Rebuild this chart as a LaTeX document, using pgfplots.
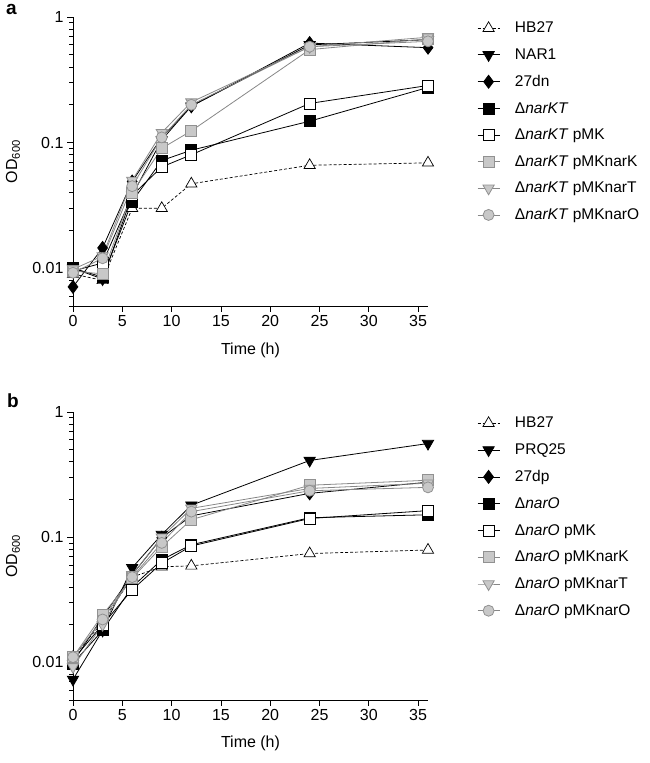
\documentclass[border=0pt]{standalone}
\usepackage{fontspec}
\setmainfont{Liberation Sans}
\usepackage{pgfplots}
\pgfplotsset{compat=1.18}
\definecolor{lgray}{RGB}{200,200,200}
\definecolor{mgray}{RGB}{145,145,145}
\definecolor{lline}{RGB}{135,135,135}
\newcommand{\fs}{\fontsize{16}{19}\selectfont}
\newcommand{\fl}{\fontsize{15.5}{18}\selectfont}
\tikzset{
 shb/.style={black, line width=0.7pt, dash pattern=on 3pt off 2pt, mark=triangle*, mark size=6.5pt, mark options={solid, fill=white, draw=black}},
 snar/.style={black, line width=0.8pt, mark=triangle*, mark size=6.5pt, mark options={rotate=180, fill=black}},
 sdn/.style={black, line width=0.8pt, mark=diamond*, mark size=6.5pt, mark options={fill=black}},
 ssq/.style={black, line width=0.8pt, mark=square*, mark size=5.5pt, mark options={fill=black}},
 spmk/.style={black, line width=0.8pt, mark=square*, mark size=5.5pt, mark options={fill=white, draw=black}},
 snk/.style={lline, line width=0.8pt, mark=square*, mark size=5.5pt, mark options={fill=lgray, draw=mgray}},
 snt/.style={lline, line width=0.8pt, mark=triangle*, mark size=6.5pt, mark options={rotate=180, fill=lgray, draw=mgray}},
 sno/.style={lline, line width=0.8pt, mark=*, mark size=5.5pt, mark options={fill=lgray, draw=mgray}},
}
\begin{document}
\begin{tikzpicture}
\useasboundingbox (0pt,0pt) rectangle (649pt,-763pt);
\node[font=\fontsize{19}{22}\selectfont\bfseries, inner sep=0pt, anchor=base west] at (6pt,-14pt) {a};
\node[font=\fontsize{19}{22}\selectfont\bfseries, inner sep=0pt, anchor=base west] at (7pt,-407pt) {b};
\begin{axis}[
  scale only axis, width=355pt, height=289pt, at={(73pt,-306pt)}, anchor=south west,
  ymode=log, xmin=0, xmax=36, ymin=0.005, ymax=1,
  axis lines=left, axis line style={-, line width=0.8pt},
  tick align=outside, major tick length=6pt, minor tick length=4pt,
  xtick={0,5,...,35}, ytick={0.01,0.1,1}, yticklabels={0.01,0.1,1},
  minor ytick={0.005,0.006,0.007,0.008,0.009,0.02,0.03,0.04,0.05,0.06,0.07,0.08,0.09,0.2,0.3,0.4,0.5,0.6,0.7,0.8,0.9},
  tick style={black, line width=0.8pt},
  ticklabel style={font=\fs},
  /pgf/number format/assume math mode=true,
  xlabel={Time (h)}, ylabel={OD\textsubscript{600}},
  label style={font=\fs},
  xlabel style={at={(axis description cs:0.5,-0.152)},anchor=center},
  ylabel style={at={(axis description cs:-0.169,0.5)},anchor=center},
  clip=false,
  legend style={draw=none, fill=none, inner sep=0pt, at={(1.138,0.99)}, anchor=north west,
    font=\fl, nodes={font=\fl}, row sep=10.4pt, column sep=13pt, cells={anchor=west}},
  legend image code/.code={\draw[mark repeat=2,mark phase=2] plot coordinates {(0pt,0pt)(11pt,0pt)(22pt,0pt)};},
]
\addplot[shb] coordinates {(0,0.009)(3,0.008)(6,0.030)(9,0.030)(12,0.047)(24,0.066)(36,0.069)};
\addlegendentry{\fl HB27}
\addplot[snar] coordinates {(0,0.010)(3,0.0082)(6,0.038)(9,0.105)(12,0.195)(24,0.60)(36,0.66)};
\addlegendentry{\fl NAR1}
\addplot[sdn] coordinates {(0,0.0071)(3,0.0145)(6,0.049)(9,0.11)(12,0.195)(24,0.62)(36,0.57)};
\addlegendentry{\fl 27dn}
\addplot[ssq] coordinates {(0,0.010)(3,0.0085)(6,0.034)(9,0.072)(12,0.087)(24,0.148)(36,0.275)};
\addlegendentry{\fl Δ\textit{narKT}}
\addplot[spmk] coordinates {(0,0.0095)(3,0.011)(6,0.038)(9,0.064)(12,0.080)(24,0.205)(36,0.285)};
\addlegendentry{\fl Δ\textit{narKT} pMK}
\addplot[snk] coordinates {(0,0.0095)(3,0.009)(6,0.040)(9,0.090)(12,0.124)(24,0.55)(36,0.67)};
\addlegendentry{\fl Δ\textit{narKT} pMKnarK}
\addplot[snt] coordinates {(0,0.0098)(3,0.0125)(6,0.050)(9,0.12)(12,0.21)(24,0.58)(36,0.69)};
\addlegendentry{\fl Δ\textit{narKT} pMKnarT}
\addplot[sno] coordinates {(0,0.0092)(3,0.012)(6,0.045)(9,0.11)(12,0.20)(24,0.58)(36,0.64)};
\addlegendentry{\fl Δ\textit{narKT} pMKnarO}
\end{axis}
\begin{axis}[
  scale only axis, width=355pt, height=288pt, at={(73pt,-700pt)}, anchor=south west,
  ymode=log, xmin=0, xmax=36, ymin=0.005, ymax=1,
  axis lines=left, axis line style={-, line width=0.8pt},
  tick align=outside, major tick length=6pt, minor tick length=4pt,
  xtick={0,5,...,35}, ytick={0.01,0.1,1}, yticklabels={0.01,0.1,1},
  minor ytick={0.005,0.006,0.007,0.008,0.009,0.02,0.03,0.04,0.05,0.06,0.07,0.08,0.09,0.2,0.3,0.4,0.5,0.6,0.7,0.8,0.9},
  tick style={black, line width=0.8pt},
  ticklabel style={font=\fs},
  /pgf/number format/assume math mode=true,
  xlabel={Time (h)}, ylabel={OD\textsubscript{600}},
  label style={font=\fs},
  xlabel style={at={(axis description cs:0.5,-0.152)},anchor=center},
  ylabel style={at={(axis description cs:-0.169,0.5)},anchor=center},
  clip=false,
  legend style={draw=none, fill=none, inner sep=0pt, at={(1.138,0.99)}, anchor=north west,
    font=\fl, nodes={font=\fl}, row sep=10.4pt, column sep=13pt, cells={anchor=west}},
  legend image code/.code={\draw[mark repeat=2,mark phase=2] plot coordinates {(0pt,0pt)(11pt,0pt)(22pt,0pt)};},
]
\addplot[shb] coordinates {(0,0.011)(3,0.021)(6,0.048)(9,0.058)(12,0.059)(24,0.074)(36,0.079)};
\addlegendentry{\fl HB27}
\addplot[snar] coordinates {(0,0.0073)(3,0.018)(6,0.057)(9,0.105)(12,0.18)(24,0.41)(36,0.56)};
\addlegendentry{\fl PRQ25}
\addplot[sdn] coordinates {(0,0.010)(3,0.023)(6,0.050)(9,0.099)(12,0.148)(24,0.224)(36,0.275)};
\addlegendentry{\fl 27dp}
\addplot[ssq] coordinates {(0,0.0098)(3,0.018)(6,0.040)(9,0.066)(12,0.087)(24,0.143)(36,0.151)};
\addlegendentry{\fl Δ\textit{narO}}
\addplot[spmk] coordinates {(0,0.0105)(3,0.020)(6,0.038)(9,0.062)(12,0.085)(24,0.141)(36,0.163)};
\addlegendentry{\fl Δ\textit{narO} pMK}
\addplot[snk] coordinates {(0,0.011)(3,0.024)(6,0.047)(9,0.084)(12,0.138)(24,0.26)(36,0.285)};
\addlegendentry{\fl Δ\textit{narO} pMKnarK}
\addplot[snt] coordinates {(0,0.0092)(3,0.020)(6,0.050)(9,0.10)(12,0.17)(24,0.245)(36,0.27)};
\addlegendentry{\fl Δ\textit{narO} pMKnarT}
\addplot[sno] coordinates {(0,0.011)(3,0.022)(6,0.048)(9,0.09)(12,0.16)(24,0.235)(36,0.25)};
\addlegendentry{\fl Δ\textit{narO} pMKnarO}
\end{axis}
\end{tikzpicture}
\end{document}
